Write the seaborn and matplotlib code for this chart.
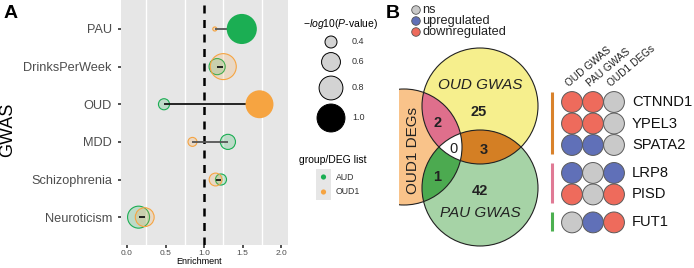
import numpy as np
import pandas as pd
import matplotlib
matplotlib.use("Agg")
import matplotlib.pyplot as plt
import seaborn as sns
from matplotlib.patches import Circle, Polygon, Rectangle
from matplotlib.colors import to_rgba

plt.rcParams['font.family'] = ['Liberation Sans', 'DejaVu Sans']
plt.rcParams['mathtext.fontset'] = 'custom'
plt.rcParams['mathtext.it'] = 'Liberation Sans:italic'
plt.rcParams['mathtext.rm'] = 'Liberation Sans'

# ---------------- data: panel A ----------------
gwas = ["PAU", "DrinksPerWeek", "OUD", "MDD", "Schizophrenia", "Neuroticism"]
aud_enrich = [1.49, 1.17, 0.48, 1.31, 1.22, 0.15]
oud1_enrich = [1.14, 1.25, 1.72, 0.85, 1.15, 0.23]
aud_logp = [1.12, 0.51, 0.38, 0.48, 0.38, 0.72]
oud1_logp = [0.28, 0.90, 1.00, 0.34, 0.42, 0.60]
aud_sig = [True, False, False, False, False, False]
oud1_sig = [False, False, True, False, False, False]
line_dark = [False, True, True, False, True, True]
size_legend_vals = [0.4, 0.6, 0.8, 1.0]
groups = ["AUD", "OUD1"]

# ---------------- data: panel B ----------------
venn_labels = ["OUD GWAS", "PAU GWAS", "OUD1 DEGs"]
n_oud_only, n_pau_only = 25, 42
n_oud_deg, n_pau_deg, n_oud_pau, n_all = 2, 1, 3, 0
genes = ["CTNND1", "YPEL3", "SPATA2", "LRP8", "PISD", "FUT1"]
gene_group = [0, 0, 0, 1, 1, 2]
oud_gwas_dir = ["down", "down", "up", "up", "down", "ns"]
pau_gwas_dir = ["down", "down", "up", "ns", "ns", "up"]
oud1_deg_dir = ["ns", "ns", "ns", "up", "down", "down"]
status_names = ["ns", "upregulated", "downregulated"]

GREEN = "#1BAE53"
ORANGE = "#F6A441"
pal = {"AUD": GREEN, "OUD1": ORANGE}
pal_fill = {k: to_rgba(v, 0.2) for k, v in pal.items()}
dir_pal = {"ns": "#C9C9C9", "up": "#6070B8", "down": "#EE6B5C"}

W, H = 694, 268
fig = plt.figure(figsize=(W / 100, H / 100), dpi=100)

def fx(px):
    return px / W

def fy(py):
    return 1 - py / H

# size mapping shared by plot and legend
LO, HI = 0.28, 1.2
SMIN, SMAX = 549.5 * LO - 145.2, 549.5 * HI - 145.2

# ---------------- Panel A ----------------
ax = fig.add_axes([fx(121), fy(245), fx(288) - fx(121), 245 / H])
ax.set_facecolor("#E6E6E6")
for s in ax.spines.values():
    s.set_visible(False)

rows = []
for i, g in enumerate(gwas):
    rows.append(dict(gwas=g, ypos=i, group="AUD", enrich=aud_enrich[i], logp=aud_logp[i], sig=aud_sig[i]))
    rows.append(dict(gwas=g, ypos=i, group="OUD1", enrich=oud1_enrich[i], logp=oud1_logp[i], sig=oud1_sig[i]))
df = pd.DataFrame(rows)

for xv in [0.25, 0.75, 1.25, 1.75]:
    ax.axvline(xv, color="white", lw=1.0, zorder=0.5)

ns = df[~df.sig].reset_index(drop=True)
sns.scatterplot(data=ns, x="enrich", y="ypos", hue="group", size="logp", sizes=(SMIN, SMAX),
                size_norm=(LO, HI), palette=pal_fill, ax=ax, legend=False, linewidth=0.8, zorder=2)
ax.collections[-1].set_edgecolors([pal[g] for g in ns.group])

ax.axvline(1.0, color="black", lw=1.8, dashes=(3.2, 2.6), zorder=2.5)

for i in range(len(gwas)):
    lo, hi = sorted([aud_enrich[i], oud1_enrich[i]])
    ax.hlines(i, lo, hi, colors="#151515" if line_dark[i] else "#555555", lw=1.3, zorder=3)

sg = df[df.sig].reset_index(drop=True)
sns.scatterplot(data=sg, x="enrich", y="ypos", hue="group", size="logp", sizes=(SMIN, SMAX),
                size_norm=(LO, HI), palette=pal, ax=ax, legend=False, linewidth=0, zorder=4)

ax.set_xlim(-0.078, 2.09)
ax.set_ylim(len(gwas) - 1 + 0.74, -0.77)
ax.set_xticks([0, 0.5, 1.0, 1.5, 2.0])
ax.set_xticklabels(["0.0", "0.5", "1.0", "1.5", "2.0"])
ax.set_yticks(range(len(gwas)))
ax.set_yticklabels(gwas)
ax.tick_params(axis="y", labelsize=9.2, labelcolor="#4D4D4D", length=2.5, width=1.2, color="#333333", pad=4)
ax.tick_params(axis="x", labelsize=6, labelcolor="#4D4D4D", length=2, width=1.2, color="#333333", pad=1.5)
ax.set_xlabel("Enrichment", fontsize=6.5)
ax.xaxis.set_label_coords(0.47, -0.047)
ax.set_ylabel("GWAS", fontsize=13)
ax.yaxis.set_label_coords(-0.63, 0.47)

# overlay axes in pixel coordinates for legends / labels
lax = fig.add_axes([0, 0, 1, 1], zorder=5)
lax.set_xlim(0, W)
lax.set_ylim(H, 0)
lax.axis("off")
lax.patch.set_alpha(0)

lax.text(4, 13, "A", fontsize=14, fontweight="bold", va="center")
lax.text(386, 13, "B", fontsize=14, fontweight="bold", va="center")

# size legend
lax.text(303, 24, r"$\mathit{-log10(P}$-value)", fontsize=7.5, va="center")
leg = pd.DataFrame(dict(x=[331] * 4, y=[42, 62, 88, 118], logp=size_legend_vals,
                        kind=["ns", "ns", "ns", "sig"]))
sns.scatterplot(data=leg, x="x", y="y", size="logp", sizes=(SMIN, SMAX), size_norm=(LO, HI),
                hue="kind", palette={"ns": "#D3D3D3", "sig": "black"}, ax=lax, legend=False,
                linewidth=0.7, edgecolor="black")
for yv, v in zip(leg.y, size_legend_vals):
    lax.text(352, yv, f"{v:.1f}", fontsize=6.5, va="center", color="#333333")

lax.text(333, 160, "group/DEG list", fontsize=7.5, va="center", ha="center")
lax.add_patch(Rectangle((316, 169), 15, 31, color="#E6E6E6", lw=0))
gl = pd.DataFrame(dict(x=[323.5, 323.5], y=[177, 192], group=groups))
sns.scatterplot(data=gl, x="x", y="y", hue="group", palette=pal, s=14, linewidth=0, ax=lax, legend=False)
for yv, g in zip(gl.y, groups):
    lax.text(336, yv, g, fontsize=6.3, va="center", color="#333333")

# B legend
bl = pd.DataFrame(dict(x=[416, 416, 416], y=[10, 21, 32], st=["ns", "up", "down"]))
sns.scatterplot(data=bl, x="x", y="y", hue="st", palette=dir_pal, s=38, linewidth=0.6,
                edgecolor="#555555", ax=lax, legend=False)
for yv, t in zip(bl.y, status_names):
    lax.text(422.5, yv, t, fontsize=9.2, va="center", color="#222222")

# ---------------- Venn ----------------
vx0, vx1, vy0, vy1 = 399, 545, 44, 252
vax = fig.add_axes([fx(vx0), fy(vy1), fx(vx1) - fx(vx0), (vy1 - vy0) / H], zorder=3)
vax.set_xlim(vx0, vx1)
vax.set_ylim(vy1, vy0)
vax.axis("off")

C_OUD = (480, 106, 58)
C_PAU = (480, 188, 58)
C_DEG = (404, 147, 58)

def inter_poly(circs, n=3000):
    pts = []
    for k, (cx, cy, r) in enumerate(circs):
        t = np.linspace(0, 2 * np.pi, n, endpoint=False)
        p = np.c_[cx + r * np.cos(t), cy + r * np.sin(t)]
        m = np.ones(n, bool)
        for j, (ox, oy, orr) in enumerate(circs):
            if j != k:
                m &= (p[:, 0] - ox) ** 2 + (p[:, 1] - oy) ** 2 <= orr ** 2 + 1e-6
        pts.append(p[m])
    pts = np.vstack(pts)
    c = pts.mean(0)
    a = np.arctan2(pts[:, 1] - c[1], pts[:, 0] - c[0])
    return pts[np.argsort(a)]

for (cx, cy, r), col in [(C_DEG, "#F9C38A"), (C_OUD, "#F6EF8D"), (C_PAU, "#A6D3A6")]:
    vax.add_patch(Circle((cx, cy), r, facecolor=col, edgecolor="none"))
for circs, col in [([C_OUD, C_DEG], "#DF6F8C"), ([C_OUD, C_PAU], "#D47F24"),
                   ([C_PAU, C_DEG], "#4CAA50"), ([C_OUD, C_PAU, C_DEG], "white")]:
    vax.add_patch(Polygon(inter_poly(circs), closed=True, facecolor=col, edgecolor="none"))
for (cx, cy, r) in [C_DEG, C_OUD, C_PAU]:
    vax.add_patch(Circle((cx, cy), r, facecolor="none", edgecolor="#222222", lw=0.8))

vax.text(480, 85, venn_labels[0], fontsize=11, style="italic", ha="center", va="center", color="#222222")
vax.text(480, 213, venn_labels[1], fontsize=11, style="italic", ha="center", va="center", color="#222222")
vax.text(413, 150, venn_labels[2], fontsize=11, rotation=90, ha="center", va="center", color="#222222")
for (tx, ty), n in zip([(479, 112), (480, 191), (438, 123), (437, 177), (484, 150), (453, 149)],
                       [n_oud_only, n_pau_only, n_oud_deg, n_pau_deg, n_oud_pau, n_all]):
    vax.text(tx, ty, str(n), fontsize=10.5, fontweight="bold" if n else "normal",
             ha="center", va="center", color="#222222")

# ---------------- dot grid ----------------
gx0, gx1, gy0, gy1 = 540, 694, 40, 245
gax = fig.add_axes([fx(gx0), fy(gy1), fx(gx1) - fx(gx0), (gy1 - gy0) / H], zorder=3)
xs, ys = 21.0, 21.5
gax.set_xlim((gx0 - 572) / xs, (gx1 - 572) / xs)
gax.set_ylim((gy1 - 102) / ys, (gy0 - 102) / ys)
gax.axis("off")

gap = 0.3
ypos = [i + gap * g for i, g in enumerate(gene_group)]
grid_rows = []
for i, gname in enumerate(genes):
    for j, dirs in enumerate([oud_gwas_dir, pau_gwas_dir, oud1_deg_dir]):
        grid_rows.append(dict(gene=gname, col=j, y=ypos[i], st=dirs[i]))
gdf = pd.DataFrame(grid_rows)
sns.scatterplot(data=gdf, x="col", y="y", hue="st", palette=dir_pal, s=225, linewidth=0.7,
                edgecolor="#5A5A5A", ax=gax, legend=False, clip_on=False)
for i, gname in enumerate(genes):
    gax.text(2.85, ypos[i], gname, fontsize=10.6, va="center", color="#111111")
for j, lab in enumerate(venn_labels):
    gax.text(j - 0.15, -0.68, lab, fontsize=7.3, rotation=40, rotation_mode="anchor",
             ha="left", va="baseline", color="#222222")
bar_cols = ["#D9822B", "#E07A95", "#4CB050"]
for g in range(3):
    yy = [y for y, gg in zip(ypos, gene_group) if gg == g]
    gax.plot([-0.95, -0.95], [min(yy) - 0.47, max(yy) + 0.42], color=bar_cols[g], lw=2.2,
             solid_capstyle="butt")

fig.savefig("out.png", dpi=100)
